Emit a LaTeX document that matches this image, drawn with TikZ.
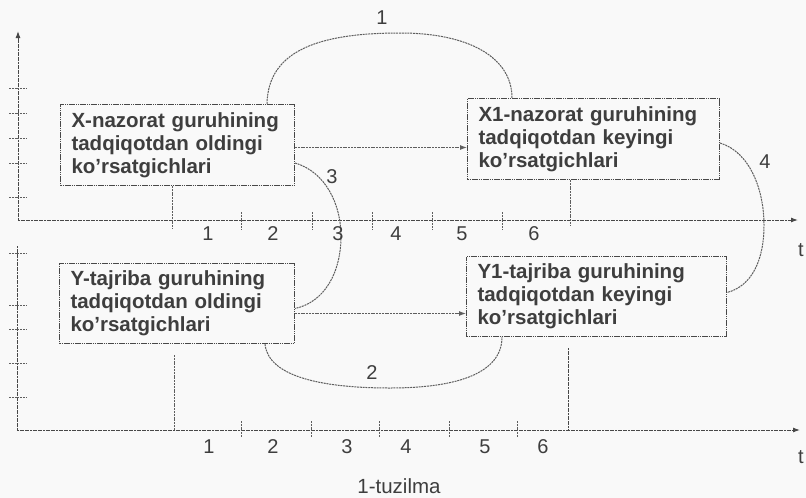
\documentclass[tikz,border=0pt]{standalone}
\usepackage{fontspec}
\setmainfont{Liberation Sans}
\usetikzlibrary{arrows.meta,calc}
\definecolor{lc}{HTML}{5E5E5E}
\definecolor{bc}{HTML}{484848}
\definecolor{tc}{HTML}{3E3E3E}
\definecolor{bg}{HTML}{F9F9F9}
\begin{document}
\begin{tikzpicture}[x=1pt,y=-1pt,
  ln/.style={draw=lc,line width=1pt,dash pattern=on 2pt off 0.8pt},
  axis/.style={draw=bc,line width=1pt,dash pattern=on 2pt off 0.6pt},
  tip/.style={-{Latex[length=7pt,width=5pt]}},
  box/.style={draw=bc,line width=1pt,dash pattern=on 1.6pt off 0.6pt,anchor=north west,
    inner xsep=11pt,inner ysep=0pt,align=left,text=tc,
    font=\fontsize{20.5}{23}\selectfont\bfseries},
  lab/.style={text=tc,inner sep=0pt,font=\fontsize{20}{20}\selectfont},
  clab/.style={text=tc,inner sep=0pt,font=\fontsize{20}{20}\selectfont}
]
\fill[bg] (0,0) rectangle (806,498);
\useasboundingbox (0,0) rectangle (806,498);

% boxes
\node[box,minimum width=234pt,minimum height=81pt,text width=212pt] (X) at (60,104)
  {X-nazorat guruhining\\tadqiqotdan oldingi\\ko’rsatgichlari};
\node[box,minimum width=252pt,minimum height=81pt,text width=230pt] (X1) at (467,98)
  {X1-nazorat guruhining\\tadqiqotdan keyingi\\ko’rsatgichlari};
\node[box,minimum width=235pt,minimum height=80pt,text width=213pt] (Y) at (59,263)
  {Y-tajriba guruhining\\tadqiqotdan oldingi\\ko’rsatgichlari};
\node[box,minimum width=260pt,minimum height=80pt,text width=238pt] (Y1) at (466,256)
  {Y1-tajriba guruhining\\tadqiqotdan keyingi\\ko’rsatgichlari};

% top axes
\coordinate (O1) at (18,220);
\coordinate (T1) at (18,31);
\coordinate (R1) at (798,220);
\draw[axis,tip] (O1) -- (T1);
\draw[axis,tip] (O1) -- (R1);
\foreach \yy in {88,113,138,163,197} \draw[ln] (9,\yy) -- (27,\yy);
\foreach \xx in {241,312,372,432,502} \draw[ln] (\xx,212) -- (\xx,229);

% bottom axes
\coordinate (O2) at (17,430);
\coordinate (T2) at (17,246);
\coordinate (R2) at (800,430);
\draw[axis] (O2) -- (T2);
\draw[axis,tip] (O2) -- (R2);
\foreach \yy in {253,305,329,363,397} \draw[ln] (9,\yy) -- (26,\yy);
\foreach \xx in {241,311,379,449,517} \draw[ln] (\xx,421) -- (\xx,437);

% drop lines
\draw[ln] ([xshift=112pt]X.south west) -- (172,229);
\draw[ln] ([xshift=103pt]X1.south west) -- (570,226);
\coordinate (D1) at (174,355);
\coordinate (D2) at (568,348);
\draw[ln] (D1) -- (174,430);
\draw[axis] (D2) -- (568,430);

% straight arrows
\draw[ln,tip] ([yshift=-2.5pt]X.east) coordinate (a1) -- (a1 -| X1.west);
\draw[ln,tip] ([yshift=-10pt]Y.east) coordinate (a2) -- (a2 -| Y1.west);

% curves
\draw[ln] ([xshift=207pt]X.north west) .. controls (268,50) and (320,33) .. (400,33)
  .. controls (470,33) and (512,58) .. ([xshift=45pt]X1.north west);
\draw[ln] ([yshift=-18pt]X.east) .. controls (326,172) and (341,205) .. (341,236)
  .. controls (341,272) and (325,302) .. ([yshift=-5pt]Y.east);
\draw[ln] ([yshift=-4pt]X1.east) .. controls (750,152) and (764,190) .. (764,225)
  .. controls (764,260) and (752,286) .. ([yshift=4pt]Y1.east);
\draw[ln] ([xshift=206pt]Y.south west) .. controls (268,376) and (320,388) .. (390,388)
  .. controls (460,388) and (502,372) .. ([xshift=36pt]Y1.south west);

% curve labels
\node[clab] (c1) at (382,18) {1};
\node[clab] (c3) at (332,177) {3};
\node[clab] (c4) at (765,162) {4};
\node[clab] (c2) at (372,373) {2};

% axis labels
\node[lab] (ta1) at (208,234) {1};
\node[lab] (ta2) at (273,234) {2};
\node[lab] (ta3) at (338,234) {3};
\node[lab] (ta4) at (396,234) {4};
\node[lab] (ta5) at (462,234) {5};
\node[lab] (ta6) at (534,234) {6};
\node[lab] (tt) at (801,250) {t};
\node[lab] (ba1) at (209,447) {1};
\node[lab] (ba2) at (273,447) {2};
\node[lab] (ba3) at (347,447) {3};
\node[lab] (ba4) at (406,447) {4};
\node[lab] (ba5) at (485,447) {5};
\node[lab] (ba6) at (543,447) {6};
\node[lab] (bt) at (801,457) {t};

\node[text=tc,inner sep=0pt,font=\fontsize{20.5}{21}\selectfont] (cap) at (399,486) {1-tuzilma};
\end{tikzpicture}
\end{document}
